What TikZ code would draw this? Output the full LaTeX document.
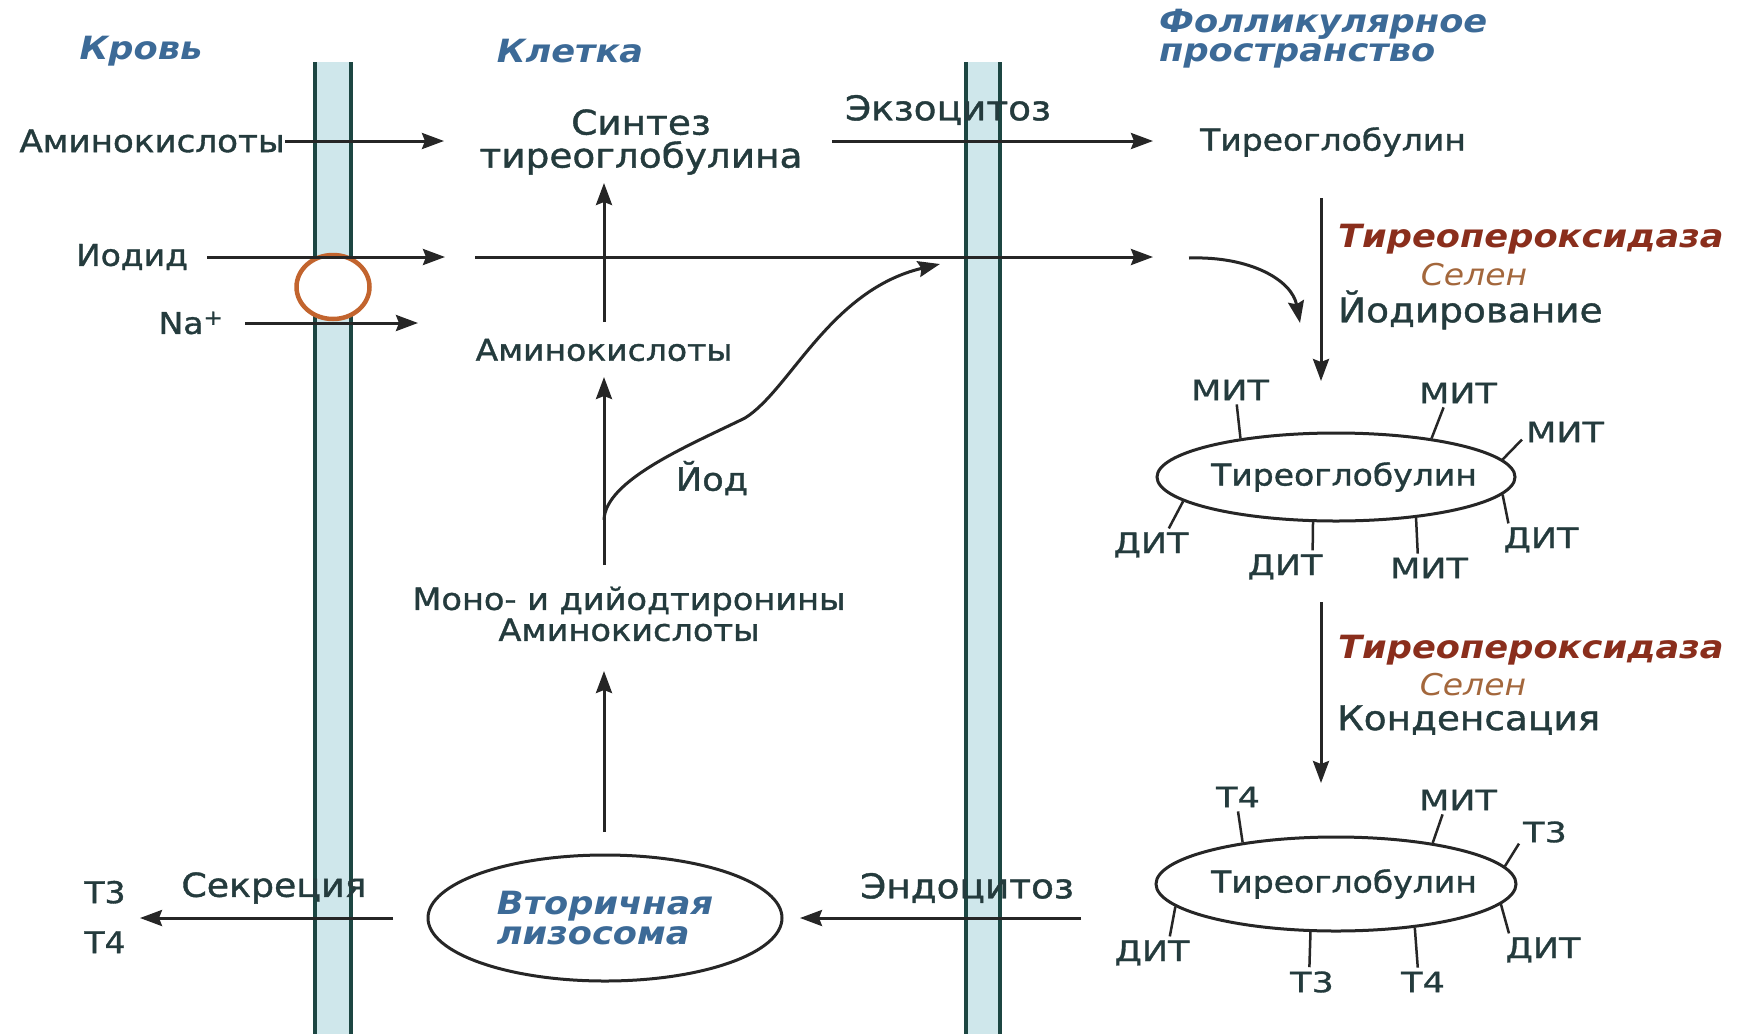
\documentclass[tikz,border=0pt]{standalone}
\usepackage{fontspec}
\setmainfont[FakeStretch=1.1,
  UprightFeatures={FakeBold=1.2},
  ItalicFont=DejaVu Sans Oblique,
  BoldFont=DejaVu Sans Bold,
  BoldItalicFont=DejaVu Sans Bold Oblique]{DejaVu Sans}
\newfontfamily\spkfont[FakeStretch=1.25,FakeBold=1]{DejaVu Sans}
\usetikzlibrary{shapes.geometric,arrows.meta}
\newcommand{\fsz}[1]{\fontsize{#1}{#1}\selectfont}
\definecolor{txt}{HTML}{243B3D}
\definecolor{head}{HTML}{3C6A97}
\definecolor{tpoc}{HTML}{8A2E1C}
\definecolor{selc}{HTML}{A3673C}
\definecolor{memb}{HTML}{1C4642}
\definecolor{membfill}{HTML}{CFE7EB}
\definecolor{nisc}{HTML}{C2642E}
\definecolor{arr}{HTML}{262626}
\tikzset{
  lbl/.style={text=txt, inner sep=0pt, align=center},
  hd/.style={text=head, inner sep=0pt, align=left, font=\bfseries\itshape\fontsize{32}{30}\selectfont},
  spk/.style={text=txt, inner sep=4pt, font=\spkfont\fsz{28}},
  tpost/.style={text=tpoc, inner sep=0pt, font=\bfseries\itshape\fsz{32}},
  selst/.style={text=selc, inner sep=0pt, font=\itshape\fsz{30}},
  arrowln/.style={draw=arr, line width=3pt, -{Stealth[length=22pt,width=16pt,inset=3pt]}},
  spoke/.style={draw=arr, line width=2.5pt},
  ell/.style={ellipse, draw=arr, line width=3pt, inner sep=0pt, text=txt},
  membline/.style={draw=memb, line width=4.5pt}
}
\begin{document}
\begin{tikzpicture}[x=1pt,y=-1pt]
\useasboundingbox (0,0) rectangle (1739,1034);
\fill[white] (0,0) rectangle (1739,1034);
% membranes
\fill[membfill] (315,62) rectangle (351,1034);
\draw[membline] (315,62) -- (315,1034);
\draw[membline] (351,62) -- (351,1034);
\fill[membfill] (966,62) rectangle (1000,1034);
\draw[membline] (966,62) -- (966,1034);
\draw[membline] (1000,62) -- (1000,1034);
% NIS symporter
\node[ellipse, draw=nisc, line width=4.5pt, fill=white, minimum width=73pt, minimum height=64pt, inner sep=0pt] (nis) at (333,287) {};
% headings
\node[hd] (krov) at (141,51) {Кровь};
\node[hd] (klet) at (570,51) {Клетка};
\node[hd, anchor=west, font=\bfseries\itshape\fontsize{32}{29}\selectfont] (foll) at (1159,39) {Фолликулярное\\пространство};
% cell column
\node[lbl, font=\fsz{31}, anchor=east] (aa1) at (285,141) {Аминокислоты};
\node[lbl, font=\fontsize{34}{33}\selectfont] (synth) at (641,142) {Синтез\\тиреоглобулина};
\node[lbl, font=\fsz{34}] (exo) at (948,110) {Экзоцитоз};
\node[lbl, font=\fsz{30}] (tg0) at (1333,142) {Тиреоглобулин};
\node[lbl, font=\fsz{30}] (iod) at (132,257) {Иодид};
\node[lbl, font=\fsz{30}] (na) at (191,323) {Na\textsuperscript{+}};
\node[lbl, font=\fsz{30}] (aa2) at (604,350) {Аминокислоты};
\node[lbl, font=\fontsize{30.5}{31}\selectfont] (mono) at (629,614) {Моно- и дийодтиронины\\Аминокислоты};
\node[lbl, font=\fsz{32}] (yod) at (712,478) {Йод};
\node[ell, minimum width=354pt, minimum height=126pt, text=head, align=left, font=\bfseries\itshape\fontsize{32}{30}\selectfont] (lys) at (605,918) {Вторичная\\лизосома};
\node[lbl, font=\fsz{33}] (sec) at (274,888) {Секреция};
\node[lbl, align=left, font=\fontsize{30}{50}\selectfont] (t34) at (105,917) {Т3\\Т4};
\node[lbl, font=\fsz{34}] (endo) at (967,888) {Эндоцитоз};
% follicular side
\node[tpost, anchor=west] (tpo1) at (1338,239) {Тиреопероксидаза};
\node[selst] (sel1) at (1474,275) {Селен};
\node[lbl, anchor=west, font=\fsz{34}] (jod) at (1338,310) {Йодирование};
\node[ell, minimum width=358pt, minimum height=88pt, font=\fsz{30}] (tg1) at (1336,477) {\makebox[0pt]{\hspace{16pt}Тиреоглобулин}};
\node[tpost, anchor=west] (tpo2) at (1338,650) {Тиреопероксидаза};
\node[selst] (sel2) at (1473,685) {Селен};
\node[lbl, anchor=west, font=\fsz{34}] (kond) at (1337,720) {Конденсация};
\node[ell, minimum width=360pt, minimum height=94pt, font=\fsz{30}] (tg2) at (1336,884) {\makebox[0pt]{\hspace{16pt}Тиреоглобулин}};
% spoke labels, first thyroglobulin
\node[spk] (a1) at (1230,390) {МИТ};
\node[spk] (a2) at (1458,393) {МИТ};
\node[spk] (a3) at (1565,432) {МИТ};
\node[spk] (a4) at (1151,545) {ДИТ};
\node[spk] (a5) at (1285,567) {ДИТ};
\node[spk] (a6) at (1429,568) {МИТ};
\node[spk] (a7) at (1541,540) {ДИТ};
\draw[spoke] (tg1.158) -- (a1.295);
\draw[spoke] (tg1.22) -- (a2.225);
\draw[spoke] (tg1.6) -- (a3.190);
\draw[spoke] (tg1.189) -- (a4.43);
\draw[spoke] (tg1.243) -- (a5.31);
\draw[spoke] (tg1.333) -- (a6.128);
\draw[spoke] (tg1.354) -- (a7.153);
% spoke labels, second thyroglobulin
\node[spk] (b1) at (1238,797) {Т4};
\node[spk] (b2) at (1458,800) {МИТ};
\node[spk] (b3) at (1545,832) {Т3};
\node[spk] (b4) at (1152,953) {ДИТ};
\node[spk] (b5) at (1312,982) {Т3};
\node[spk] (b6) at (1423,982) {Т4};
\node[spk] (b7) at (1543,950) {ДИТ};
\draw[spoke] (tg2.156.6) -- (b1.south);
\draw[spoke] (tg2.23) -- (b2.223);
\draw[spoke] (tg2.6.5) -- (b3.204);
\draw[spoke] (tg2.188.8) -- (b4.43);
\draw[spoke] (tg2.242.7) -- (b5.100);
\draw[spoke] (tg2.331.5) -- (b6.110);
\draw[spoke] (tg2.353) -- (b7.154);
% connector end points
\coordinate (aa1E) at (444,141);
\coordinate (exoS) at (832,141);
\coordinate (exoE) at (1153,141);
\coordinate (iodS) at (207,257);
\coordinate (iodE) at (445,257);
\coordinate (iod2S) at (475,257);
\coordinate (iod2E) at (1153,257);
\coordinate (naS) at (245,323);
\coordinate (naE) at (418,323);
\coordinate (v1S) at (604,322);
\coordinate (v1E) at (604,183);
\coordinate (v2S) at (604,565);
\coordinate (v2E) at (604,377);
\coordinate (v3S) at (604,832);
\coordinate (v3E) at (604,671);
\coordinate (yodS) at (604,520);
\coordinate (yodM) at (745,418);
\coordinate (yodE) at (940,264);
\coordinate (secS) at (393,918);
\coordinate (secE) at (140,918);
\coordinate (endoS) at (1081,918);
\coordinate (endoE) at (800,918);
\coordinate (d1S) at (1321,198);
\coordinate (d1E) at (1321,381);
\coordinate (cS) at (1189,258);
\coordinate (cE) at (1300,323);
\coordinate (d2S) at (1321,602);
\coordinate (d2E) at (1321,783);
% connectors
\draw[arrowln] (aa1.east) -- (aa1E);
\draw[arrowln] (exoS) -- (exoE);
\draw[arrowln] (iodS) -- (iodE);
\draw[arrowln] (iod2S) -- (iod2E);
\draw[arrowln] (naS) -- (naE);
\draw[arrowln] (v1S) -- (v1E);
\draw[arrowln] (v2S) -- (v2E);
\draw[arrowln] (v3S) -- (v3E);
\draw[arrowln] (yodS) .. controls (605,480) and (690,445) .. (yodM) .. controls (790,390) and (830,290) .. (yodE);
\draw[arrowln] (secS) -- (secE);
\draw[arrowln] (endoS) -- (endoE);
\draw[arrowln] (d1S) -- (d1E);
\draw[arrowln] (cS) .. controls (1250,256) and (1292,280) .. (cE);
\draw[arrowln] (d2S) -- (d2E);
\end{tikzpicture}
\end{document}
